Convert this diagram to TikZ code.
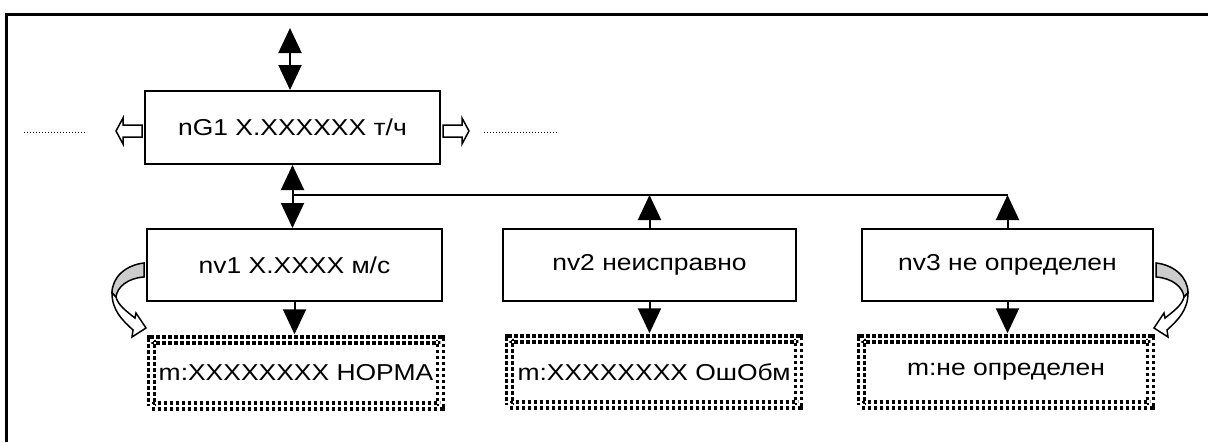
\documentclass[tikz,border=0pt]{standalone}
\usepackage{fontspec}
\setmainfont[FakeStretch=1.15]{Liberation Sans}
\usetikzlibrary{arrows.meta}
\definecolor{bandgray}{RGB}{204,204,204}
\tikzset{
  box/.style={draw,line width=2pt,minimum width=295pt,minimum height=72pt,inner sep=0pt,
    font=\fontsize{23pt}{27pt}\selectfont},
  mbox/.style={draw,line width=3.5pt,dash pattern=on 3.5pt off 2.5pt,double,double distance=2.5pt,
    minimum width=289pt,minimum height=66pt,inner sep=0pt,font=\fontsize{23pt}{27pt}\selectfont},
  hollow/.style={draw,line width=1.5pt,fill=white},
}
% curved hollow arrow, drawn from the side of a box
\newcommand\bentarrow{%
  \filldraw[fill=bandgray,line width=1.5pt] (-2,-2) .. controls (-20,0) and (-34,12) .. (-34,28)
    -- (-30,32) .. controls (-29,22) and (-18,13) .. (-2,12) -- cycle;
  \filldraw[fill=white,line width=1.5pt] (-34,28) .. controls (-34,45) and (-24,55) .. (-13,65)
    -- (-14,72) -- (0,63) -- (-10,48) -- (-11,53)
    .. controls (-20,46) and (-28,40) .. (-30,32) -- cycle;
}
\begin{document}
\begin{tikzpicture}[x=1pt,y=-1pt,line width=2pt,>={Triangle[length=25pt,width=23pt]}]
    \useasboundingbox (0,0) rectangle (1208,442);
    \draw[line width=3pt] (6,442) -- (6,14) -- (1208,14);
    \draw
    (292.5,127.5) node[box,minimum height=73pt] (G) {nG1 X.XXXXXX т/ч}
    (294.5,265) node[box] (v1) {nv1 X.XXXX м/с}
    (649.5,265) node[box,minimum width=293pt] (v2) {nv2 неисправно}
    (1007.5,265) node[box,minimum width=291pt] (v3) {nv3 не определен}
    (296,373) node[mbox] (m1) {m:XXXXXXXX НОРМА}
    (654,372) node[mbox] (m2) {m:XXXXXXXX ОшОбм}
    (1006,372) node[mbox] (m3) {m:не определен\hspace{37pt}};
    \coordinate (T) at (290,28);
    \coordinate (J) at (292.5,195);
    % links
    \draw[<->] (T) -- (T |- G.north);
    \draw[<->] (G.south) -- (G.south |- v1.north);
    \draw (J) -- (J -| v3.north);
    \draw[->] (v2.north) -- (v2.north |- J);
    \draw[->] (v3.north) -- (v3.north |- J);
    \draw[->,shorten >=4pt] (v1.south) -- (v1.south |- m1.north);
    \draw[->,shorten >=4pt] (v2.south) -- (v2.south |- m2.north);
    \draw[->,shorten >=4pt] (v3.south) -- (v3.south |- m3.north);
    % side arrows of nG1
    \draw[hollow] (142,125) -- (123,125) -- (123,118) -- (116,131) -- (123,144) -- (123,137) -- (142,137) -- cycle;
    \draw[hollow] (443,125) -- (462,125) -- (462,118) -- (469,131) -- (462,144) -- (462,137) -- (443,137) -- cycle;
    \draw[dotted,line width=1pt] (24,132) -- (87,132) (484,132) -- (557,132);
    \begin{scope}[shift={(v1.west)}]
      \bentarrow
    \end{scope}
    \begin{scope}[shift={(v3.east)},xscale=-1]
      \bentarrow
    \end{scope}
  \end{tikzpicture}
\end{document}
